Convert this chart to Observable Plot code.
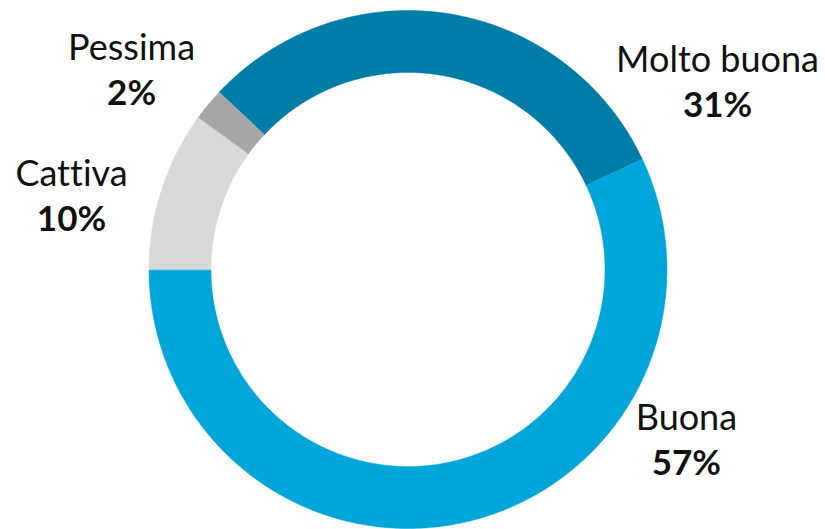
<!DOCTYPE html>
<html>
<head>
<meta charset="utf-8">
<script src="https://cdn.jsdelivr.net/npm/d3@7"></script>
<script src="https://cdn.jsdelivr.net/npm/@observablehq/plot@0.6"></script>
<style>
  html, body { margin: 0; padding: 0; background: #ffffff; }
  #chart svg { display: block; }
  #chart text { font-variant-ligatures: none; font-feature-settings: "liga" 0, "clig" 0; }
</style>
</head>
<body>
<div id="chart"></div>
<script>
// ---- data ----
const categories = ["Molto buona", "Buona", "Cattiva", "Pessima"];
const values = [31, 57, 10, 2];
const percentLabels = ["31%", "57%", "10%", "2%"];
const colors = ["#007DA6", "#00A6DA", "#D9D9D9", "#A6A6A6"];

// ---- layout config ----
const W = 825, H = 529;
const cx = 407.5, cy = 269, R = 259;       // pixel centre & outer radius
const innerRatio = 197 / 259;
const startAngle = -46.8;                   // degrees, clockwise from 12 o'clock
// label placement (angle in degrees clockwise from top, radius relative to R)
const labelAngle = { "Molto buona": 57.5, "Buona": 119.9, "Cattiva": 284, "Pessima": 307.1 };
const labelRadius = { "Molto buona": 1.417, "Buona": 1.240, "Cattiva": 1.339, "Pessima": 1.338 };

const total = d3.sum(values);
const rad = d => d * Math.PI / 180;

// build slice polygons in unit (data) coordinates
const slicePts = [];
let acc = startAngle;
categories.forEach((c, i) => {
  const a0 = acc, a1 = acc + values[i] / total * 360;
  acc = a1;
  const n = Math.max(8, Math.ceil((a1 - a0) * 2));
  for (let k = 0; k <= n; k++) {
    const a = rad(a0 + (a1 - a0) * k / n);
    slicePts.push({ cat: c, x: Math.sin(a), y: Math.cos(a) });
  }
  for (let k = n; k >= 0; k--) {
    const a = rad(a0 + (a1 - a0) * k / n);
    slicePts.push({ cat: c, x: innerRatio * Math.sin(a), y: innerRatio * Math.cos(a) });
  }
});

const labels = categories.map((c, i) => {
  const a = rad(labelAngle[c]);
  const r = labelRadius[c];
  return { cat: c, name: c, pct: percentLabels[i], x: r * Math.sin(a), y: r * Math.cos(a) };
});

const chart = Plot.plot({
  width: W,
  height: H,
  margin: 0,
  style: { background: "#ffffff", fontFamily: "Lato, 'Open Sans', sans-serif" },
  x: { domain: [-cx / R, (W - cx) / R], axis: null },
  y: { domain: [-(H - cy) / R, cy / R], axis: null },
  color: { domain: categories, range: colors },
  marks: [
    Plot.line(slicePts, { x: "x", y: "y", z: "cat", fill: "cat", stroke: "cat", strokeWidth: 0.5, curve: "linear-closed" }),
    Plot.text(labels, { x: "x", y: "y", text: "name", fontSize: 36, fill: "#111111", textAnchor: "middle", lineAnchor: "bottom" }),
    Plot.text(labels, { x: "x", y: "y", text: "pct", fontSize: 35, fontWeight: "bold", fill: "#111111", textAnchor: "middle", lineAnchor: "bottom", dy: 45 })
  ]
});
document.getElementById("chart").appendChild(chart);
</script>
</body>
</html>
